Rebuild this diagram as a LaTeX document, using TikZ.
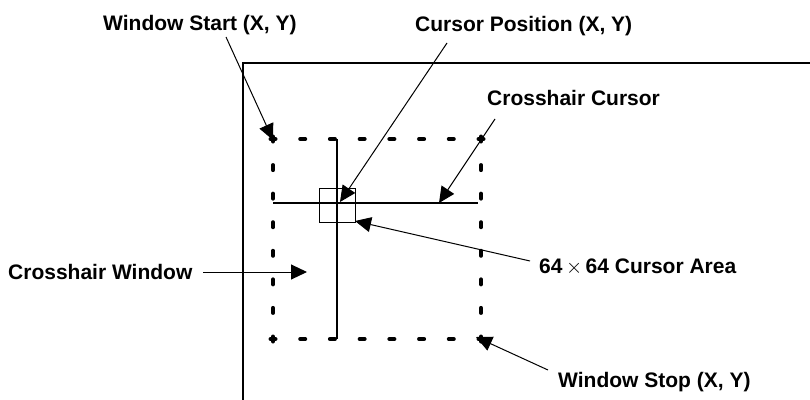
\documentclass[tikz,border=0pt]{standalone}
\usepackage{fontspec}
\setmainfont{Liberation Sans}
\usetikzlibrary{arrows.meta}
\begin{document}
\begin{tikzpicture}[x=1pt,y=-1pt,
  lbl/.style={inner sep=0pt,anchor=base west,font=\fontsize{21}{25}\selectfont\bfseries},
  ptr/.style={line width=1pt,-{Triangle[length=16pt,width=15pt]}},
  frame/.style={line width=2.5pt},
  hair/.style={line width=1.3pt},
  dot/.style={line width=4pt,line cap=round}]
\useasboundingbox (0,0) rectangle (810,399);
% screen frame
\coordinate (F) at (243,63);
\draw[frame] (810,63) -- (F) -- (243,410);
% dotted crosshair window
\foreach \i in {0,...,7}{
  \draw[dot] ({273+\i*208/7-2.5},139) -- ({273+\i*208/7+2.5},139);
  \draw[dot] ({273+\i*208/7-2.5},339) -- ({273+\i*208/7+2.5},339);
  \draw[dot] (273,{139+\i*200/7-2.5}) -- (273,{139+\i*200/7+2.5});
  \draw[dot] (481,{139+\i*200/7-2.5}) -- (481,{139+\i*200/7+2.5});
}
% crosshair
\draw[hair] (337,139) -- (337,339);
\draw[hair] (273,203) -- (478,203);
% cursor area box
\node[draw,line width=1pt,minimum width=36pt,minimum height=34pt,inner sep=0pt] (box) at (337,205) {};
% labels
\node[lbl] (ws) at (103,30) {Window Start (X, Y)};
\node[lbl] (cp) at (415,31) {Cursor Position (X, Y)};
\node[lbl] (cc) at (487,105) {Crosshair Cursor};
\node[lbl] (cw) at (8,279) {Crosshair Window};
\node[lbl] (ca) at (539,273) {64\,$\times$\,64 Cursor Area};
\node[lbl] (wp) at (558,387) {Window Stop (X, Y)};
% connector ends
\coordinate (wsA) at (226,37);   \coordinate (wsT) at (273,140);
\coordinate (cpA) at (447,43);   \coordinate (cpT) at (340,202);
\coordinate (ccA) at (495,119);  \coordinate (ccT) at (439,203);
\coordinate (cwA) at (203,272);  \coordinate (cwT) at (307,272);
\coordinate (caA) at (530,261);  \coordinate (caT) at (355,221);
\coordinate (wpA) at (548,370);  \coordinate (wpT) at (476,337);
\draw[ptr] (wsA) -- (wsT);
\draw[ptr] (cpA) -- (cpT);
\draw[ptr] (ccA) -- (ccT);
\draw[ptr] (cwA) -- (cwT);
\draw[ptr] (caA) -- (caT);
\draw[ptr] (wpA) -- (wpT);
\end{tikzpicture}
\end{document}
